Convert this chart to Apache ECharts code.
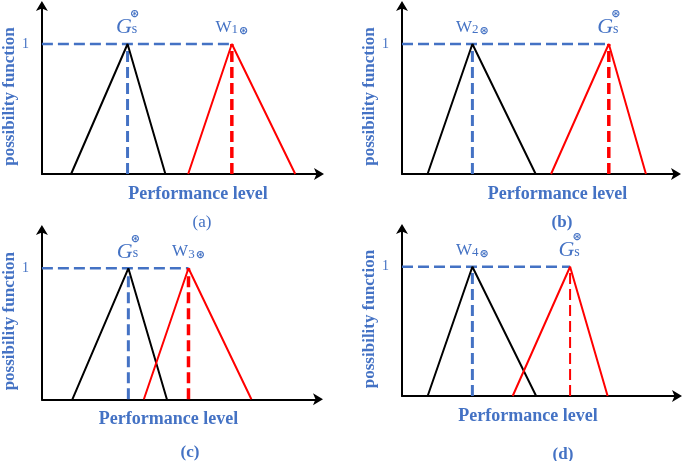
<!DOCTYPE html>
<html><head><meta charset="utf-8">
<script src="https://cdn.jsdelivr.net/npm/echarts@6/dist/echarts.min.js"></script>
<style>html,body{margin:0;padding:0;background:#fff}#c{width:685px;height:461px}</style>
</head><body><div id="c"></div>
<script>
// ---- data (performance level in axis units 0..100, possibility 0..1) ----
const panelCaptions = ['(a)', '(b)', '(c)', '(d)'];
const blackTriangles = [
  [10.5, 30.8, 44.4],
  [9.3, 25.6, 48.6],
  [11.0, 31.2, 45.1],
  [9.3, 25.5, 48.6]
];
const redTriangles = [
  [52.6, 68.3, 91.1],
  [54.2, 75.2, 88.7],
  [36.8, 52.9, 75.6],
  [40.1, 60.9, 74.5]
];
const blackPeakLabels = ['G', 'W2', 'G', 'W4'];
const redPeakLabels = ['W1', 'G', 'W3', 'G'];
const peakValue = 1;
const yTickLabels = ['1'];
const xAxisTitle = 'Performance level';
const yAxisTitle = 'possibility function';

// ---- layout / style ----
const BLUE = '#4472C4';
const SERIF = '"Liberation Serif","Times New Roman",serif';
const grids = [
  {left: 39.5, top: 5, width: 280.5, height: 169},
  {left: 402, top: 5, width: 275, height: 169},
  {left: 40, top: 229, width: 279, height: 170.3},
  {left: 402, top: 228, width: 276, height: 168}
];
const xNamePads = [[0, 0, 0, 34], [0, 0, 0, 36], [0, 24, 0, 0], [0, 24, 0, 0]];
const captionPos = [[197, 220, 'normal'], [557, 220, 'bold'], [185, 450, 'bold'], [558, 452, 'bold']];
const redDashWidth = [3.5, 3.5, 3.5, 2];

const rich = {
  sup: {fontFamily: 'DejaVu Sans', fontSize: 11, fontWeight: 'bold', color: BLUE, align: 'left', lineHeight: 8, padding: [0, 0, 0, 14]},
  g: {fontFamily: SERIF, fontStyle: 'italic', fontSize: 22, color: BLUE, align: 'left', lineHeight: 18},
  s: {fontFamily: SERIF, fontSize: 14, color: BLUE, align: 'left', lineHeight: 18, verticalAlign: 'bottom'},
  w: {fontFamily: SERIF, fontSize: 17, color: BLUE, lineHeight: 18},
  n: {fontFamily: SERIF, fontSize: 13, color: BLUE, lineHeight: 18, verticalAlign: 'bottom', padding: [3, 0, 0, 0]},
  c: {fontFamily: 'DejaVu Sans', fontSize: 11, fontWeight: 'bold', color: BLUE, lineHeight: 18, verticalAlign: 'bottom', padding: [3, 0, 0, 1]}
};
function peakText(lbl) {
  if (lbl === 'G') return '{sup|⊛}\n{g|G}{s|s}';
  return '{w|W}{n|' + lbl.slice(1) + '}{c|⊛}';
}

const option = {
  backgroundColor: '#fff',
  animation: false,
  grid: grids.map(g => Object.assign({containLabel: false}, g)),
  title: panelCaptions.map((t, i) => ({
    text: t, left: captionPos[i][0], top: captionPos[i][1] - 11, textAlign: 'center',
    textStyle: {fontFamily: SERIF, fontSize: 17, fontWeight: captionPos[i][2], color: BLUE}
  })),
  xAxis: grids.map((g, i) => ({
    type: 'value', gridIndex: i, min: 0, max: 100,
    axisLine: {show: true, onZero: false, symbol: ['none', 'arrow'], symbolSize: [9, 10], symbolOffset: [0, 4],
      lineStyle: {color: '#000', width: 2}},
    axisTick: {show: false}, axisLabel: {show: false}, splitLine: {show: false},
    name: xAxisTitle, nameLocation: 'middle', nameGap: 11,
    nameTextStyle: {fontFamily: SERIF, fontSize: 18, fontWeight: 'bold', color: BLUE, verticalAlign: 'top', padding: xNamePads[i]}
  })),
  yAxis: grids.map((g, i) => ({
    type: 'value', gridIndex: i, min: 0, max: 1.3, interval: 1,
    axisLine: {show: true, onZero: false, symbol: ['none', 'arrow'], symbolSize: [9, 10], symbolOffset: [0, 4],
      lineStyle: {color: '#000', width: 2}},
    axisTick: {show: false}, splitLine: {show: false},
    axisLabel: {show: true, showMaxLabel: false, margin: 13, fontFamily: SERIF, fontSize: 14, color: BLUE,
      formatter: v => (Math.abs(v - peakValue) < 1e-9 ? yTickLabels[0] : '')},
    name: yAxisTitle, nameLocation: 'middle', nameGap: 20,
    nameTextStyle: {fontFamily: SERIF, fontSize: 17, fontWeight: 'bold', color: BLUE, padding: [0, 14, 0, 0]}
  })),
  series: []
};

const hiddenDot = {symbol: 'circle', symbolSize: 1, showSymbol: true, showAllSymbol: true, itemStyle: {color: 'rgba(0,0,0,0)'}};

for (let i = 0; i < 4; i++) {
  const b = blackTriangles[i], r = redTriangles[i];
  option.series.push({type: 'line', xAxisIndex: i, yAxisIndex: i, symbol: 'none', silent: true,
    lineStyle: {color: BLUE, width: 2.5, type: [11, 5]},
    data: [[0, peakValue], [Math.max(b[1], r[1]), peakValue]]});
  option.series.push({type: 'line', xAxisIndex: i, yAxisIndex: i, symbol: 'none', silent: true,
    lineStyle: {color: BLUE, width: 3, type: [11, 5]},
    data: [[b[1], 0], [b[1], peakValue]]});
  option.series.push({type: 'line', xAxisIndex: i, yAxisIndex: i, symbol: 'none', silent: true,
    lineStyle: {color: '#FF0000', width: redDashWidth[i], type: [11, 5]},
    data: [[r[1], 0], [r[1], peakValue]]});
  option.series.push(Object.assign({type: 'line', xAxisIndex: i, yAxisIndex: i, silent: true,
    lineStyle: {color: '#000', width: 2},
    data: [[b[0], 0], {value: [b[1], peakValue], label: {show: true, position: 'top', distance: 7, formatter: peakText(blackPeakLabels[i]), rich: rich}}, [b[2], 0]]}, hiddenDot));
  option.series.push(Object.assign({type: 'line', xAxisIndex: i, yAxisIndex: i, silent: true,
    lineStyle: {color: '#FF0000', width: 2},
    data: [[r[0], 0], {value: [r[1], peakValue], label: {show: true, position: 'top', distance: 7, formatter: peakText(redPeakLabels[i]), rich: rich}}, [r[2], 0]]}, hiddenDot));
}

const chart = echarts.init(document.getElementById('c'), null, {renderer: 'canvas'});
chart.setOption(option);
</script>
</body></html>
